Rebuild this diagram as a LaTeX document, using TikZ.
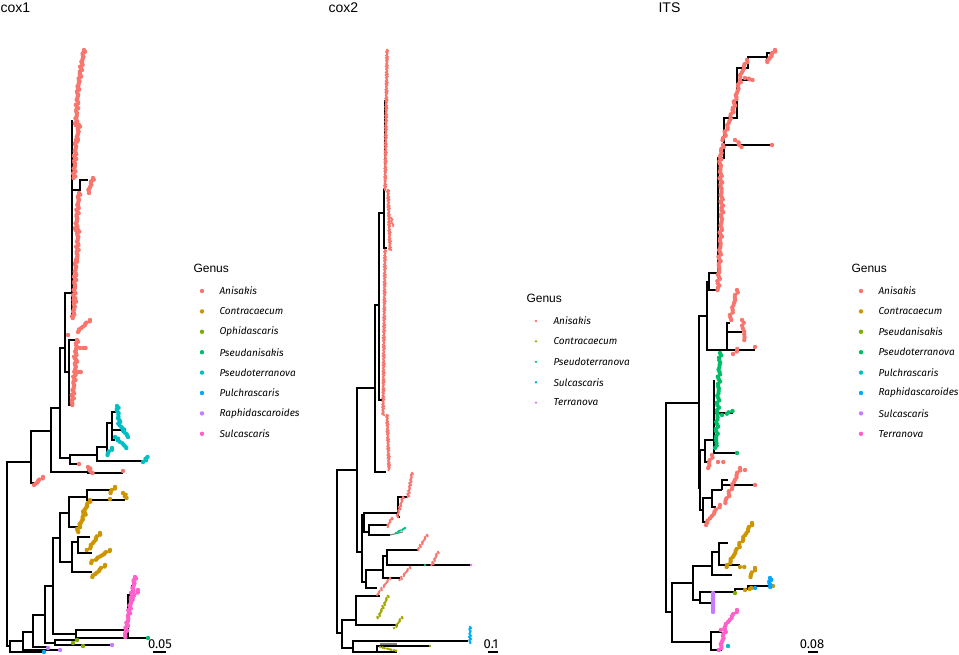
\documentclass[tikz,border=0pt]{standalone}
\usepackage{fontspec}
\setmainfont{Liberation Sans}
\newfontfamily\legfont{Fira Sans}

\definecolor{anis}{HTML}{F8766D}
\definecolor{contra}{HTML}{CD9600}
\definecolor{ophid}{HTML}{7CAE00}
\definecolor{psani}{HTML}{00BE67}
\definecolor{pster}{HTML}{00BFC4}
\definecolor{pulch}{HTML}{00A9FF}
\definecolor{raphi}{HTML}{C77CFF}
\definecolor{sulca}{HTML}{FF61CC}
\definecolor{ctwo}{HTML}{A3A500}
\definecolor{ptwo}{HTML}{00BF7D}
\definecolor{stwo}{HTML}{00B0F6}
\definecolor{ttwo}{HTML}{E76BF3}

% one internal node of a tree: x, top y, bottom y, end x of top and bottom child
\newcommand{\fork}[5]{\draw [black] (#4,#2) -- (#1,#2) -- (#1,#3) -- (#5,#3);}
% a run of tips: colour, x1, y1, x2, y2, count
\newcommand{\tips}[6]{\fill [#1] \foreach \k in {0,...,#6} {({#2+(#4-#2)*\k/#6+\tipj*(0.7*sin(\k*97)+0.5*sin(\k*131))},{#3+(#5-#3)*\k/#6}) circle (\tipr)};}
\newcommand{\tip}[3]{\fill [#1] (#2,#3) circle (\tipr);}

\begin{document}
\begin{tikzpicture}[x=1pt,y=-1pt,line width=1.1pt]
	\tikzstyle{every node}+=[inner sep=0pt]
	\tikzstyle{title}=[anchor=base west,font=\fontsize{14}{16}\selectfont]
	\tikzstyle{genus}=[anchor=west,font=\fontsize{12}{14}\selectfont]
	\tikzstyle{item}=[anchor=west,font=\legfont\itshape\fontsize{10}{12}\selectfont]
	\tikzstyle{scl}=[anchor=base,font=\legfont\fontsize{13}{15}\selectfont]
	\useasboundingbox [fill=white] (0,0) rectangle (959,654);
	\def\tipr{2.2pt}
	\def\tipj{1.2}

	% ---------- cox1 ----------
	\node [title] (t1) at (0,12) {cox1};
	\fork{7}{462}{646}{31}{10}
	\fork{31}{431}{483}{51}{36}
	\fork{51}{408}{472}{60}{88}
	\fork{88}{468}{473}{91}{123}
	\fork{60}{348}{458}{65}{70}
	\fork{65}{293}{372}{72}{69}
	\fork{69}{340}{405}{76}{73}
	\draw [black] (72,120) -- (72,318) -- (74,318);
	\draw [black] (72,190) -- (80,190) -- (80,180) -- (88,180);
	\fork{70}{455}{464}{97}{79}
	\fork{97}{447}{461}{107}{143}
	\fork{107}{423}{452}{112}{108}
	\fork{112}{412}{440}{117}{115}
	\draw [black] (112,430) -- (122,430);
	\fork{10}{641}{652}{23}{43}
	\fork{23}{632}{650}{33}{60}
	\fork{33}{615}{647}{45}{48}
	\fork{45}{586}{643}{53}{55}
	\fork{53}{538}{634}{60}{76}
	\fork{76}{630}{638}{125}{148}
	\fork{55}{640}{645}{75}{112}
	\fork{60}{513}{562}{69}{72}
	\fork{69}{497}{527}{87}{78}
	\fork{87}{490}{500}{110}{125}
	\fork{72}{542}{572}{78}{92}
	\fork{78}{537}{553}{90}{92}
	\draw [black] (128,637) -- (128,595) -- (132,595) -- (132,585);
	% tips
	\tips{anis}{84}{50}{80}{75}{15}
	\tips{anis}{80}{75}{78}{88}{8}
	\tips{anis}{78}{88}{76}{125}{22}
	\tips{anis}{79}{125}{77}{140}{9}
	\tips{anis}{76}{140}{74}{178}{24}
	\tips{anis}{93}{178}{88}{193}{9}
	\tips{anis}{79}{193}{76}{230}{22}
	\tips{anis}{78}{230}{77}{260}{18}
	\tips{anis}{76}{260}{74}{300}{24}
	\tips{anis}{75}{300}{73}{318}{11}
	\tips{anis}{90}{320}{77}{332}{9}
	\tip{anis}{68}{335}
	\tips{anis}{77}{340}{75}{360}{12}
	\tips{anis}{80}{348}{86}{348}{3}
	\tips{anis}{76}{360}{72}{405}{27}
	\tips{anis}{78}{372}{81}{372}{2}
	\tips{anis}{88}{467}{92}{473}{4}
	\tip{anis}{123}{471}
	\tip{anis}{79}{464}
	\tips{anis}{43}{477}{34}{485}{6}
	\tips{pster}{117}{406}{120}{427}{12}
	\tips{pster}{122}{428}{128}{437}{6}
	\tips{pster}{115}{437}{127}{448}{7}
	\tips{pster}{112}{448}{107}{455}{4}
	\tips{pster}{143}{462}{148}{457}{3}
	\tips{contra}{115}{487}{110}{493}{4}
	\tip{contra}{110}{499}
	\tips{contra}{123}{493}{127}{498}{3}
	\tips{contra}{90}{500}{83}{513}{8}
	\tips{contra}{85}{513}{77}{532}{12}
	\tips{contra}{100}{533}{88}{550}{10}
	\tips{contra}{110}{550}{90}{563}{12}
	\tips{contra}{105}{565}{92}{577}{8}
	\tips{sulca}{135}{577}{125}{637}{38}
	\tips{sulca}{138}{590}{132}{600}{4}
	\tip{psani}{148}{638}
	\tip{ophid}{73}{643}
	\tip{ophid}{77}{640}
	\tip{ophid}{83}{646}
	\tip{raphi}{112}{645}
	\tip{raphi}{48}{648}
	\tip{raphi}{60}{650}
	\tip{pulch}{44}{652}
	\node [scl] (s1) at (160,648) {0.05};
	\draw [black] (153,652) -- (166,652);
	% legend
	\node [genus] (g1) at (193,268) {Genus};
	\foreach \n/\c [count=\i from 0] in {Anisakis/anis,Contracaecum/contra,Ophidascaris/ophid,Pseudanisakis/psani,Pseudoterranova/pster,Pulchrascaris/pulch,Raphidascaroides/raphi,Sulcascaris/sulca}{
		\fill [\c] (202,{291+20.4*\i}) circle (2.2pt);
		\node [item] (c1g\i) at (219,{291+20.4*\i}) {\n};
	}

	% ---------- cox2 ----------
	\def\tipr{1.3pt}
	\def\tipj{1.0}
	\node [title] (t2) at (328,12) {cox2};
	\fork{337}{470}{633}{357}{342}
	\fork{357}{388}{552}{375}{362}
	\fork{375}{305}{472}{379}{386}
	\fork{379}{213}{400}{384}{383}
	\fork{384}{189}{248}{385}{387}
	\draw [black] (385,100) -- (385,189);
	\fork{362}{515}{582}{364}{366}
	\fork{364}{513}{532}{398}{369}
	\fork{398}{497}{517}{408}{400}
	\fork{369}{525}{535}{387}{390}
	\draw [gray] (390,535) -- (403,532);
	\fork{366}{570}{588}{383}{377}
	\fork{383}{556}{578}{387}{400}
	\fork{387}{550}{565}{418}{470}
	\fork{342}{620}{648}{356}{353}
	\fork{356}{596}{625}{380}{379}
	\draw [black] (379,625) -- (398,625);
	\fork{353}{641}{652}{468}{377}
	\fork{377}{646}{652}{430}{397}
	\draw [gray] (380,644) -- (397,644);
	% tips
	\tips{anis}{387}{50}{386}{120}{90}
	\tips{anis}{386}{120}{385}{190}{90}
	\tips{anis}{388}{190}{390}{250}{75}
	\tips{anis}{391}{218}{393}{226}{5}
	\tips{anis}{385}{250}{384}{330}{100}
	\tips{anis}{384}{330}{383}{415}{105}
	\tips{anis}{387}{415}{389}{470}{70}
	\tips{anis}{412}{473}{408}{497}{24}
	\tips{anis}{403}{497}{397}{517}{20}
	\tips{anis}{392}{518}{387}{527}{9}
	\tips{anis}{427}{535}{418}{550}{15}
	\tips{anis}{438}{552}{432}{565}{13}
	\tips{anis}{410}{567}{400}{580}{13}
	\tips{anis}{390}{578}{377}{595}{17}
	\tips{ptwo}{396}{533}{405}{528}{6}
	\tip{ptwo}{425}{565}
	\tip{ttwo}{471}{565}
	\tips{ctwo}{388}{596}{378}{618}{22}
	\tips{ctwo}{402}{617}{395}{628}{10}
	\tips{ctwo}{380}{647}{397}{651}{10}
	\tip{ctwo}{430}{646}
	\tips{stwo}{470}{627}{470}{643}{16}
	\node [scl] (s2) at (491,648) {0.1};
	\draw [black] (488,652) -- (498,652);
	% legend
	\node [genus] (g2) at (526,298) {Genus};
	\foreach \n/\c [count=\i from 0] in {Anisakis/anis,Contracaecum/ctwo,Pseudoterranova/ptwo,Sulcascaris/stwo,Terranova/ttwo}{
		\fill [\c] (536,{321+20.4*\i}) circle (1.3pt);
		\node [item] (c2g\i) at (553,{321+20.4*\i}) {\n};
	}

	% ---------- ITS ----------
	\def\tipr{2.2pt}
	\def\tipj{1.2}
	\node [title] (t3) at (658,12) {ITS};
	\fork{666}{403}{612}{699}{672}
	\fork{699}{316}{488}{707}{700}
	\fork{707}{282}{350}{709}{727}
	\fork{709}{273}{290}{718}{718}
	\draw [black] (718,273) -- (718,158) -- (724,158) -- (724,118) -- (737,118) -- (737,68) -- (748,68) -- (748,57) -- (767,57);
	\fork{767}{53}{60}{773}{770}
	\draw [black] (724,145) -- (772,145);
	\draw [black] (737,80) -- (753,80);
	\fork{727}{323}{350}{730}{755}
	\draw [black] (727,332) -- (742,332);
	\fork{700}{450}{510}{705}{703}
	\fork{705}{440}{462}{714}{710}
	\draw [black] (714,380) -- (714,453) -- (737,453);
	\draw [black] (714,413) -- (733,413);
	\fork{703}{498}{522}{712}{707}
	\fork{712}{490}{507}{722}{716}
	\draw [black] (722,490) -- (722,480) -- (728,480);
	\draw [black] (722,485) -- (755,485);
	\fork{672}{583}{642}{693}{711}
	\fork{693}{566}{600}{712}{700}
	\fork{712}{552}{575}{719}{732}
	\fork{719}{543}{565}{728}{740}
	\fork{700}{592}{603}{718}{713}
	\draw [black] (718,592) -- (735,592) -- (735,589) -- (748,589) -- (748,586) -- (772,586);
	\fork{711}{632}{650}{722}{722}
	% tips
	\tips{anis}{775}{50}{767}{62}{8}
	\tips{anis}{747}{60}{740}{77}{8}
	\tips{anis}{745}{78}{753}{80}{3}
	\tips{anis}{740}{80}{733}{110}{14}
	\tips{anis}{733}{110}{723}{140}{14}
	\tips{anis}{735}{140}{742}{147}{3}
	\tip{anis}{772}{145}
	\tips{anis}{723}{145}{720}{157}{6}
	\tips{anis}{720}{157}{722}{210}{25}
	\tips{anis}{722}{210}{718}{290}{36}
	\tips{anis}{737}{290}{730}{320}{12}
	\tips{anis}{742}{320}{745}{340}{7}
	\tips{anis}{733}{354}{738}{349}{2}
	\tip{anis}{755}{347}
	\tips{psani}{720}{353}{716}{448}{40}
	\tips{psani}{722}{415}{733}{411}{3}
	\tip{psani}{737}{453}
	\tips{anis}{712}{455}{708}{468}{5}
	\tips{anis}{718}{462}{722}{462}{1}
	\tips{anis}{740}{468}{725}{503}{15}
	\tip{anis}{745}{470}
	\tip{anis}{755}{485}
	\tips{anis}{720}{505}{705}{525}{9}
	\tips{contra}{752}{523}{727}{567}{22}
	\tips{contra}{740}{567}{743}{567}{1}
	\tips{contra}{755}{568}{750}{577}{4}
	\tips{contra}{745}{590}{752}{588}{2}
	\tip{contra}{773}{586}
	\tip{ophid}{735}{593}
	\tips{pulch}{770}{578}{770}{587}{5}
	\tip{pulch}{755}{588}
	\def\tipj{0}
	\tips{raphi}{713}{593}{713}{612}{10}
	\def\tipj{1.2}
	\tips{sulca}{737}{610}{722}{630}{10}
	\tips{sulca}{725}{630}{720}{650}{10}
	\tip{pster}{728}{646}
	\node [scl] (s3) at (812,648) {0.08};
	\draw [black] (808,652) -- (818,652);
	% legend
	\node [genus] (g3) at (851,268) {Genus};
	\foreach \n/\c [count=\i from 0] in {Anisakis/anis,Contracaecum/contra,Pseudanisakis/ophid,Pseudoterranova/psani,Pulchrascaris/pster,Raphidascaroides/pulch,Sulcascaris/raphi,Terranova/sulca}{
		\fill [\c] (861,{291+20.4*\i}) circle (2.2pt);
		\node [item] (c3g\i) at (878,{291+20.4*\i}) {\n};
	}
\end{tikzpicture}
\end{document}
